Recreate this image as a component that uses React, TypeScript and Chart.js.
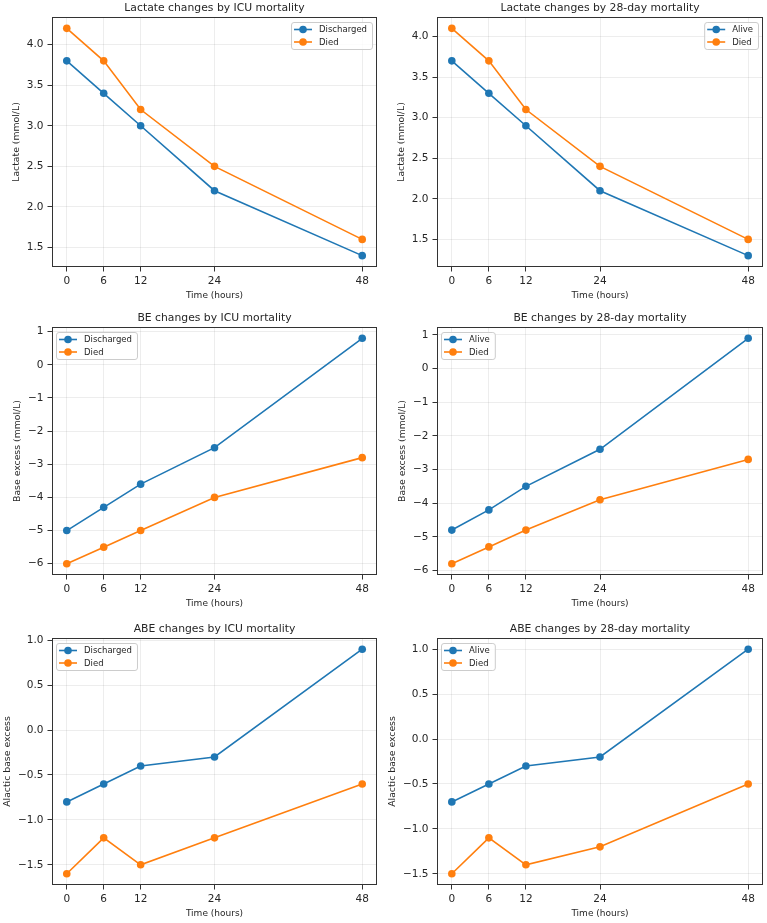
import React, { useEffect, useRef } from "react";
import { Chart, registerables } from "chart.js";
Chart.register(...registerables);

const hours = [0, 6, 12, 24, 48];
const lactateIcuDischarged = [3.8, 3.4, 3.0, 2.2, 1.4];
const lactateIcuDied = [4.2, 3.8, 3.2, 2.5, 1.6];
const lactate28Alive = [3.7, 3.3, 2.9, 2.1, 1.3];
const lactate28Died = [4.1, 3.7, 3.1, 2.4, 1.5];
const beIcuDischarged = [-5.0, -4.3, -3.6, -2.5, 0.8];
const beIcuDied = [-6.0, -5.5, -5.0, -4.0, -2.8];
const be28Alive = [-4.8, -4.2, -3.5, -2.4, 0.9];
const be28Died = [-5.8, -5.3, -4.8, -3.9, -2.7];
const abeIcuDischarged = [-0.8, -0.6, -0.4, -0.3, 0.9];
const abeIcuDied = [-1.6, -1.2, -1.5, -1.2, -0.6];
const abe28Alive = [-0.7, -0.5, -0.3, -0.2, 1.0];
const abe28Died = [-1.5, -1.1, -1.4, -1.2, -0.5];

const xTicks = [0, 6, 12, 24, 48];
const lactateTicks = [1.5, 2.0, 2.5, 3.0, 3.5, 4.0];
const beTicks = [-6, -5, -4, -3, -2, -1, 0, 1];
const abeTicks = [-1.5, -1.0, -0.5, 0.0, 0.5, 1.0];

const BLUE = "#1f77b4";
const ORANGE = "#ff7f0e";
const TEXT = "#262626";
const FONT = "'DejaVu Sans', sans-serif";

type PanelDef = {
  title: string;
  yLabel: string;
  a: number[];
  b: number[];
  la: string;
  lb: string;
  yTicks: number[];
  dec: number;
  legend: "ul" | "ur";
  region: [number, number, number, number];
  plot: [number, number, number, number];
};

const panels: PanelDef[] = [
  { title: "Lactate changes by ICU mortality", yLabel: "Lactate (mmol/L)", a: lactateIcuDischarged, b: lactateIcuDied, la: "Discharged", lb: "Died", yTicks: lactateTicks, dec: 1, legend: "ur", region: [0, 0, 383, 302], plot: [52, 17, 377, 267] },
  { title: "Lactate changes by 28-day mortality", yLabel: "Lactate (mmol/L)", a: lactate28Alive, b: lactate28Died, la: "Alive", lb: "Died", yTicks: lactateTicks, dec: 1, legend: "ur", region: [383, 0, 384, 302], plot: [437, 17, 763, 267] },
  { title: "BE changes by ICU mortality", yLabel: "Base excess (mmol/L)", a: beIcuDischarged, b: beIcuDied, la: "Discharged", lb: "Died", yTicks: beTicks, dec: 0, legend: "ul", region: [0, 302, 383, 310], plot: [52, 327, 377, 575] },
  { title: "BE changes by 28-day mortality", yLabel: "Base excess (mmol/L)", a: be28Alive, b: be28Died, la: "Alive", lb: "Died", yTicks: beTicks, dec: 0, legend: "ul", region: [383, 302, 384, 310], plot: [437, 327, 763, 575] },
  { title: "ABE changes by ICU mortality", yLabel: "Alactic base excess", a: abeIcuDischarged, b: abeIcuDied, la: "Discharged", lb: "Died", yTicks: abeTicks, dec: 1, legend: "ul", region: [0, 612, 383, 311], plot: [52, 638, 377, 885] },
  { title: "ABE changes by 28-day mortality", yLabel: "Alactic base excess", a: abe28Alive, b: abe28Died, la: "Alive", lb: "Died", yTicks: abeTicks, dec: 1, legend: "ul", region: [383, 612, 384, 311], plot: [437, 638, 763, 885] },
];

const fmt = (v: number, dec: number) => v.toFixed(dec).replace("-", "\u2212");

function Panel({ p }: { p: PanelDef }) {
  const ref = useRef<HTMLCanvasElement>(null);
  const [rx, ry, rw, rh] = p.region;
  const [pl, pt, pr, pb] = p.plot;
  useEffect(() => {
    const canvas = ref.current!;
    const all = [...p.a, ...p.b];
    const mn = Math.min(...all);
    const mx = Math.max(...all);
    const m = (mx - mn) * 0.05;
    const xmin = Math.min(...hours);
    const xmax = Math.max(...hours);
    const xm = (xmax - xmin) * 0.05;
    const tickFont = { family: FONT, size: 10.5 };

    const deco = {
      id: "deco",
      afterDatasetsDraw(chart: any) {
        const { ctx, chartArea: ca } = chart;
        ctx.save();
        ctx.font = `8.5px ${FONT}`;
        const tw = Math.max(ctx.measureText(p.la).width, ctx.measureText(p.lb).width);
        const w = 28 + tw + 5;
        const h = 27;
        const x0 = p.legend === "ur" ? ca.right - 5 - w : ca.left + 4;
        const y0 = ca.top + 5;
        ctx.beginPath();
        if ((ctx as any).roundRect) (ctx as any).roundRect(x0 + 0.5, y0 + 0.5, w, h, 2.5);
        else ctx.rect(x0 + 0.5, y0 + 0.5, w, h);
        ctx.fillStyle = "rgba(255,255,255,0.8)";
        ctx.fill();
        ctx.strokeStyle = "#cccccc";
        ctx.lineWidth = 1;
        ctx.stroke();
        const rows: [string, string, number][] = [
          [p.la, BLUE, y0 + 7.5],
          [p.lb, ORANGE, y0 + 20],
        ];
        for (const [lab, col, yy] of rows) {
          ctx.strokeStyle = col;
          ctx.lineWidth = 1.6;
          ctx.beginPath();
          ctx.moveTo(x0 + 3, yy);
          ctx.lineTo(x0 + 21, yy);
          ctx.stroke();
          ctx.fillStyle = col;
          ctx.beginPath();
          ctx.arc(x0 + 12, yy, 3.8, 0, Math.PI * 2);
          ctx.fill();
          ctx.fillStyle = TEXT;
          ctx.textBaseline = "middle";
          ctx.textAlign = "left";
          ctx.fillText(lab, x0 + 28, yy + 0.5);
        }
        ctx.restore();
      },
      afterDraw(chart: any) {
        const { ctx, chartArea: ca } = chart;
        ctx.save();
        ctx.strokeStyle = "#333333";
        ctx.lineWidth = 1;
        ctx.strokeRect(Math.round(ca.left) + 0.5, Math.round(ca.top) + 0.5, Math.round(ca.right - ca.left) - 1, Math.round(ca.bottom - ca.top) - 1);
        ctx.fillStyle = TEXT;
        ctx.textAlign = "center";
        ctx.textBaseline = "middle";
        ctx.font = `10.8px ${FONT}`;
        ctx.fillText(p.title, (ca.left + ca.right) / 2, ca.top - 9);
        ctx.font = `9px ${FONT}`;
        ctx.fillText("Time (hours)", (ca.left + ca.right) / 2, ca.bottom + 28.5);
        ctx.font = `10.5px ${FONT}`;
        let mw = 0;
        for (const v of p.yTicks) mw = Math.max(mw, ctx.measureText(fmt(v, p.dec)).width);
        const lx = ca.left - 4.5 - 4 - mw - 6 - 4.6;
        ctx.font = `9.3px ${FONT}`;
        ctx.translate(lx, (ca.top + ca.bottom) / 2);
        ctx.rotate(-Math.PI / 2);
        ctx.fillText(p.yLabel, 0, 0);
        ctx.restore();
      },
    };

    const ds = (label: string, vals: number[], col: string) => ({
      label,
      data: hours.map((h, i) => ({ x: h, y: vals[i] })),
      borderColor: col,
      backgroundColor: col,
      pointBackgroundColor: col,
      pointBorderColor: col,
      pointRadius: 3.8,
      pointBorderWidth: 0,
      borderWidth: 1.6,
      tension: 0,
      fill: false,
    });

    const chart = new Chart(canvas, {
      type: "line",
      data: { datasets: [ds(p.la, p.a, BLUE), ds(p.lb, p.b, ORANGE)] as any },
      options: {
        animation: false,
        responsive: false,
        events: [],
        layout: { padding: { top: pt - ry, right: rx + rw - pr, left: 0, bottom: 0 } },
        plugins: { legend: { display: false }, title: { display: false }, tooltip: { enabled: false } },
        scales: {
          x: {
            type: "linear",
            min: xmin - xm,
            max: xmax + xm,
            afterBuildTicks: (s: any) => {
              s.ticks = xTicks.map((v) => ({ value: v }));
            },
            afterFit: (s: any) => {
              s.height = ry + rh - pb;
            },
            ticks: { autoSkip: false, maxRotation: 0, padding: 3, font: tickFont, color: TEXT, callback: (v: any) => String(v) },
            grid: { color: "rgba(0,0,0,0.09)", lineWidth: 0.8, tickColor: "#333333", tickLength: 4.5, tickWidth: 1 },
            border: { display: false },
          },
          y: {
            type: "linear",
            min: mn - m,
            max: mx + m,
            afterBuildTicks: (s: any) => {
              s.ticks = p.yTicks.map((v) => ({ value: v }));
            },
            afterFit: (s: any) => {
              s.width = pl - rx;
            },
            ticks: { autoSkip: false, padding: 4, font: tickFont, color: TEXT, callback: (v: any) => fmt(Number(v), p.dec) },
            grid: { color: "rgba(0,0,0,0.09)", lineWidth: 0.8, tickColor: "#333333", tickLength: 4.5, tickWidth: 1 },
            border: { display: false },
          },
        },
      } as any,
      plugins: [deco],
    });
    return () => chart.destroy();
  }, []);
  return (
    <canvas
      ref={ref}
      width={rw}
      height={rh}
      style={{ position: "absolute", left: rx, top: ry, width: rw, height: rh }}
    />
  );
}

export default function App() {
  return (
    <div style={{ position: "absolute", left: 0, top: 0, width: 767, height: 923, background: "#ffffff" }}>
      {panels.map((p, i) => (
        <Panel key={i} p={p} />
      ))}
    </div>
  );
}
